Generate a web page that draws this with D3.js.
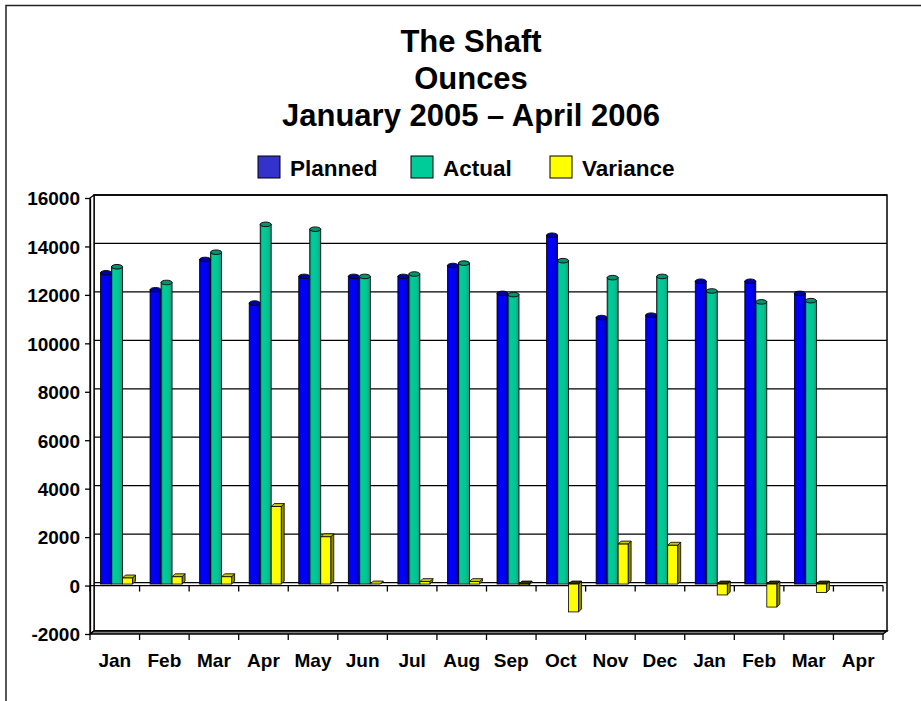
<!DOCTYPE html>
<html>
<head>
<meta charset="utf-8">
<script src="https://cdn.jsdelivr.net/npm/d3@7"></script>
<style>
	body { margin: 0; background: #fff; }
	text { font-family: Arial, "Liberation Sans", sans-serif; font-weight: bold; fill: #000; }
</style>
</head>
<body>
<svg id="chart" width="921" height="701"></svg>
<script>
var months = ["Jan", "Feb", "Mar", "Apr", "May", "Jun", "Jul", "Aug", "Sep", "Oct", "Nov", "Dec", "Jan", "Feb", "Mar", "Apr"];
var planned = [12850, 12150, 13400, 11600, 12700, 12700, 12700, 13150, 12000, 14400, 11000, 11100, 12500, 12500, 12000, null];
var actual = [13100, 12450, 13700, 14850, 14650, 12700, 12800, 13250, 11950, 13350, 12650, 12700, 12100, 11650, 11700, null];
var variance = [250, 300, 300, 3200, 1950, 0, 100, 100, -50, -1150, 1650, 1600, -450, -950, -350, null];
var yTicks = [-2000, 0, 2000, 4000, 6000, 8000, 10000, 12000, 14000, 16000];
var titleLines = ["The Shaft", "Ounces", "January 2005 \u2013 April 2006"];
var seriesNames = ["Planned", "Actual", "Variance"];

(function () {
	"use strict";
	var svg = d3.select("#chart"),
	depthX = 4,
	depthY = -3,
	barX = 2,
	barY = -1.5;

	var x = d3.scaleBand().domain(d3.range(months.length)).range([90, 883]);
	var y = d3.scaleLinear().domain([-2000, 16000]).range([634, 198]);

	var defs = svg.append("defs");
	var gradient = function (id, stops) {
		var g = defs.append("linearGradient").attr("id", id)
			.attr("x1", "0%").attr("x2", "100%").attr("y1", "0%").attr("y2", "0%");
		stops.forEach(function (s) {
			g.append("stop").attr("offset", s[0]).attr("stop-color", s[1]);
		});
	};
	gradient("gPlanned", [["0%", "#0000b0"], ["18%", "#0000ff"], ["70%", "#0000f0"], ["100%", "#000090"]]);
	gradient("gActual", [["0%", "#007a5c"], ["18%", "#00cc99"], ["70%", "#00c494"], ["100%", "#3c8a70"]]);

	// frame
	svg.append("path")
		.attr("d", "M6,701 L6,5.5 L921,5.5")
		.style("fill", "none").style("stroke", "#222").style("stroke-width", 1.5);

	// title
	svg.selectAll(".title").data(titleLines).enter()
		.append("text")
		.attr("class", "title")
		.attr("x", 471)
		.attr("y", function (d, i) { return 52 + i * 37; })
		.attr("text-anchor", "middle")
		.style("font-size", "31px")
		.text(function (d) { return d; });

	// legend
	var legendColors = ["#3333cc", "#00cc99", "#ffff00"];
	var legendX = [258, 411, 550];
	var legend = svg.selectAll(".legend").data(seriesNames).enter()
		.append("g").attr("class", "legend")
		.attr("transform", function (d, i) { return "translate(" + legendX[i] + ",156)"; });
	legend.append("rect")
		.attr("width", 22).attr("height", 22)
		.style("fill", function (d, i) { return legendColors[i]; })
		.style("stroke", "#000").style("stroke-width", 1);
	legend.append("text")
		.attr("x", 32).attr("y", 20)
		.style("font-size", "22.5px")
		.text(function (d) { return d; });

	var x0 = x.range()[0], x1 = x.range()[1];
	var yTop = y(16000), yBot = y(-2000);

	// back wall
	svg.append("rect")
		.attr("x", x0 + depthX).attr("y", yTop + depthY)
		.attr("width", x1 - x0).attr("height", yBot - yTop)
		.style("fill", "#fff").style("stroke", "#000").style("stroke-width", 1.5);

	// gridlines on back wall
	svg.selectAll(".grid").data(yTicks).enter()
		.append("line").attr("class", "grid")
		.attr("x1", x0 + depthX).attr("x2", x1 + depthX)
		.attr("y1", function (d) { return y(d) + depthY; })
		.attr("y2", function (d) { return y(d) + depthY; })
		.style("stroke", "#000").style("stroke-width", 1.3);

	// left wall
	svg.append("path")
		.attr("d", "M" + x0 + "," + yTop + " L" + (x0 + depthX) + "," + (yTop + depthY) +
			" L" + (x0 + depthX) + "," + (yBot + depthY) + " L" + x0 + "," + yBot + " Z")
		.style("fill", "#fff").style("stroke", "#000").style("stroke-width", 1.3);

	// floor
	svg.append("path")
		.attr("d", "M" + x0 + "," + yBot + " L" + (x0 + depthX) + "," + (yBot + depthY) +
			" L" + (x1 + depthX) + "," + (yBot + depthY) + " L" + x1 + "," + yBot + " Z")
		.style("fill", "#808080").style("stroke", "#000").style("stroke-width", 1.3);

	// zero line (front)
	svg.append("line")
		.attr("x1", x0).attr("x2", x1)
		.attr("y1", y(0)).attr("y2", y(0))
		.style("stroke", "#000").style("stroke-width", 1.3);

	// category ticks at zero and at floor
	var bounds = d3.range(months.length + 1).map(function (i) { return x0 + i * x.step(); });
	[y(0), yBot].forEach(function (yy) {
		svg.append("g").selectAll("line").data(bounds).enter()
			.append("line")
			.attr("x1", function (d) { return d; }).attr("x2", function (d) { return d; })
			.attr("y1", yy).attr("y2", yy + 6)
			.style("stroke", "#000").style("stroke-width", 1.3);
	});

	// category labels
	svg.selectAll(".cat").data(months).enter()
		.append("text").attr("class", "cat")
		.attr("x", function (d, i) { return x(i) + x.bandwidth() / 2; })
		.attr("y", 667)
		.attr("text-anchor", "middle")
		.style("font-size", "19px")
		.text(function (d) { return d; });

	// y axis
	var yAxis = d3.axisLeft(y).tickValues(yTicks).tickSize(5).tickSizeOuter(0).tickPadding(5)
		.tickFormat(function (d) { return String(d); });
	var ga = svg.append("g").attr("transform", "translate(" + x0 + ",0)").call(yAxis);
	ga.select(".domain").style("stroke", "#000").style("stroke-width", 1.3);
	ga.selectAll(".tick line").style("stroke", "#000").style("stroke-width", 1.3);
	ga.selectAll(".tick text").style("font-size", "19px").style("font-family", "Arial, 'Liberation Sans', sans-serif")
		.style("font-weight", "bold").attr("dy", "0.36em");

	// cylinders
	var cylW = 11;
	var cylinders = function (data, offset, fillId, topColor) {
		var g = svg.append("g");
		var items = data.map(function (v, i) { return { v: v, i: i }; })
			.filter(function (d) { return d.v !== null; });
		var cx = function (d) { return x(d.i) + barX + offset; };
		g.selectAll("rect").data(items).enter()
			.append("rect")
			.attr("x", cx)
			.attr("y", function (d) { return y(d.v) + barY; })
			.attr("width", cylW)
			.attr("height", function (d) { return y(0) - y(d.v); })
			.style("fill", "url(#" + fillId + ")")
			.style("stroke", "#000").style("stroke-width", 0.8);
		g.selectAll("ellipse").data(items).enter()
			.append("ellipse")
			.attr("cx", function (d) { return cx(d) + cylW / 2; })
			.attr("cy", function (d) { return y(d.v) + barY; })
			.attr("rx", cylW / 2).attr("ry", 2.3)
			.style("fill", topColor)
			.style("stroke", "#000").style("stroke-width", 0.9);
	};
	cylinders(planned, 8.5, "gPlanned", "#0000a8");
	cylinders(actual, 8.5 + cylW, "gActual", "#00936e");

	// variance boxes
	var boxW = 10, bdx = 3, bdy = -3;
	var vItems = variance.map(function (v, i) { return { v: v, i: i }; })
		.filter(function (d) { return d.v !== null; });
	var vg = svg.append("g");
	var bx = function (d) { return x(d.i) + barX + 8.5 + 2 * cylW; };
	var topY = function (d) { return Math.min(y(d.v), y(0)) + barY; };
	var botY = function (d) { return Math.max(y(d.v), y(0)) + barY; };
	var box = vg.selectAll("g").data(vItems).enter().append("g");
	box.append("path")
		.attr("d", function (d) {
			var l = bx(d) + boxW, t = topY(d), b = botY(d);
			return "M" + l + "," + t + " L" + (l + bdx) + "," + (t + bdy) + " L" + (l + bdx) + "," + (b + bdy) + " L" + l + "," + b + " Z";
		})
		.style("fill", "#8c8c00").style("stroke", "#000").style("stroke-width", 0.8);
	box.append("path")
		.attr("d", function (d) {
			var l = bx(d), t = topY(d);
			return "M" + l + "," + t + " L" + (l + bdx) + "," + (t + bdy) + " L" + (l + boxW + bdx) + "," + (t + bdy) + " L" + (l + boxW) + "," + t + " Z";
		})
		.style("fill", function (d) { return d.v < 0 ? "#333300" : "#c8c800"; })
		.style("stroke", "#000").style("stroke-width", 0.8);
	box.append("rect")
		.attr("x", bx)
		.attr("y", topY)
		.attr("width", boxW)
		.attr("height", function (d) { return botY(d) - topY(d); })
		.style("fill", "#ffff00").style("stroke", "#000").style("stroke-width", 0.8);
})();
</script>
</body>
</html>
